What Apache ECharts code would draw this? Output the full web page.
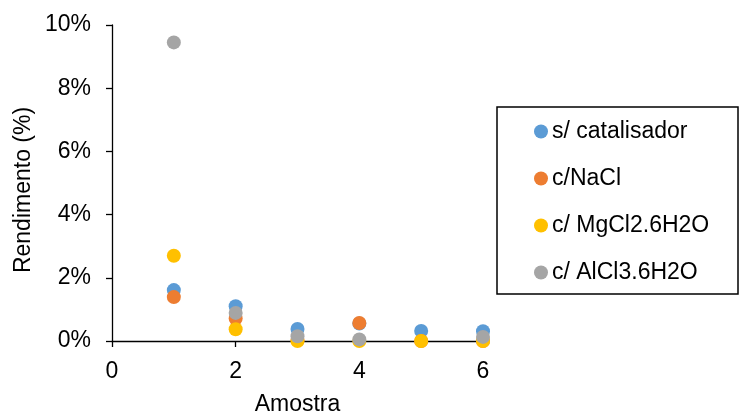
<!DOCTYPE html>
<html>
<head>
<meta charset="utf-8">
<script src="https://cdn.jsdelivr.net/npm/echarts@6/dist/echarts.min.js"></script>
<style>
html,body{margin:0;padding:0;background:#fff;}
#chart{width:744px;height:414px;}
</style>
</head>
<body>
<div id="chart"></div>
<script>
const amostras = [1, 2, 3, 4, 5, 6];
const seriesNames = ['s/ catalisador', 'c/NaCl', 'c/ MgCl2.6H2O', 'c/ AlCl3.6H2O'];
const sCatalisador = [1.61, 1.10, 0.38, 0.55, 0.32, 0.31];
const cNaCl = [1.39, 0.71, 0.02, 0.57, 0.00, 0.00];
const cMgCl2 = [2.70, 0.37, 0.00, 0.00, 0.00, 0.00];
const cAlCl3 = [9.45, 0.89, 0.15, 0.05, null, 0.13];
const yTicks = [0, 2, 4, 6, 8, 10];
const xTicks = [0, 2, 4, 6];
const colors = ['#5B9BD5', '#ED7D31', '#FFC000', '#A5A5A5'];

const allValues = [sCatalisador, cNaCl, cMgCl2, cAlCl3];
const font = 'Liberation Sans, Arial, sans-serif';
const fs = 23;

const chart = echarts.init(document.getElementById('chart'), null, {renderer: 'canvas'});
chart.setOption({
  animation: false,
  backgroundColor: '#fff',
  color: colors,
  textStyle: {fontFamily: font, color: '#000'},
  grid: {left: 112, right: 261, top: 25, bottom: 73, containLabel: false, outerBoundsMode: 'none'},
  graphic: [{
    type: 'rect',
    shape: {x: 497, y: 107, width: 241, height: 187},
    style: {fill: 'none', stroke: '#000', lineWidth: 1.5},
    z: 0
  }],
  legend: {
    orient: 'vertical',
    left: 534, top: 120,
    itemGap: 24,
    itemWidth: 14, itemHeight: 14,
    icon: 'circle',
    padding: 0,
    textStyle: {fontFamily: font, fontSize: fs, color: '#000', padding: [0, 0, 0, -1]},
    data: seriesNames
  },
  xAxis: {
    type: 'value',
    min: xTicks[0], max: xTicks[xTicks.length - 1], interval: 2,
    name: 'Amostra', nameLocation: 'middle', nameGap: 52,
    nameTextStyle: {fontFamily: font, fontSize: fs, color: '#000'},
    axisLine: {show: true, onZero: false, lineStyle: {color: '#000', width: 1.3}},
    axisTick: {show: true, length: 6, lineStyle: {color: '#000', width: 1.3}},
    axisLabel: {fontFamily: font, fontSize: fs, color: '#000', margin: 19},
    splitLine: {show: false}
  },
  yAxis: {
    type: 'value',
    min: yTicks[0], max: yTicks[yTicks.length - 1], interval: 2,
    name: 'Rendimento (%)', nameLocation: 'middle', nameGap: 77, nameRotate: 90,
    nameTextStyle: {fontFamily: font, fontSize: fs, color: '#000', padding: [0, 14, 0, 0]},
    axisLine: {show: true, lineStyle: {color: '#000', width: 1.3}},
    axisTick: {show: true, length: 6, lineStyle: {color: '#000', width: 1.3}},
    axisLabel: {fontFamily: font, fontSize: fs, color: '#000', margin: 21, formatter: '{value}%'},
    splitLine: {show: false}
  },
  series: seriesNames.map((name, i) => ({
    name: name,
    type: 'scatter',
    symbol: 'circle',
    symbolSize: 14,
    itemStyle: {color: colors[i], opacity: 1},
    data: amostras.map((x, j) => [x, allValues[i][j]]),
    z: 2 + i
  }))
});
</script>
</body>
</html>
